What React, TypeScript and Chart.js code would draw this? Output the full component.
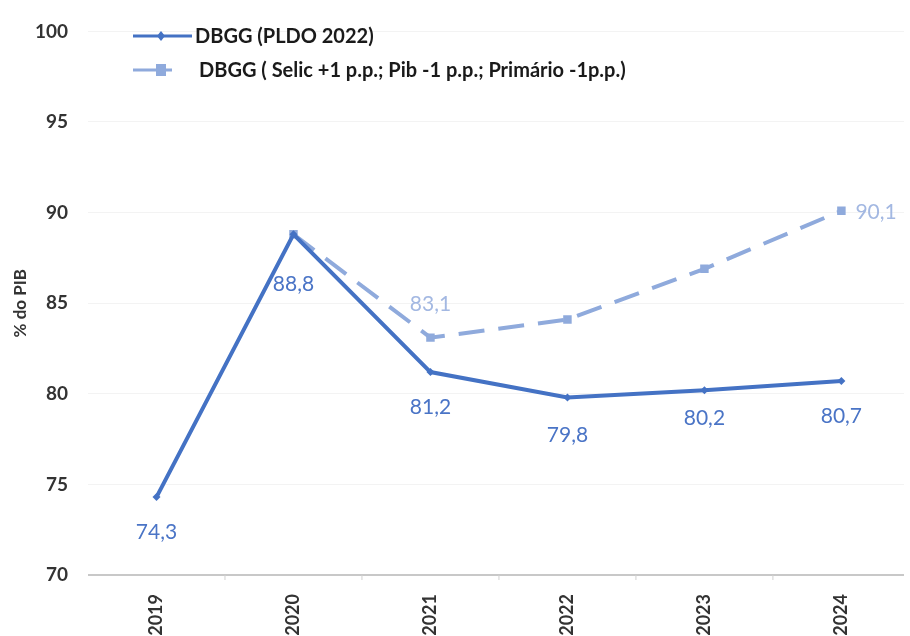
import React, { useEffect, useRef } from "react";
import { Chart, registerables } from "chart.js";

Chart.register(...registerables);

const years = [2019, 2020, 2021, 2022, 2023, 2024];
const baseSeries = [74.3, 88.8, 81.2, 79.8, 80.2, 80.7];
const stressSeries = [null, 88.8, 83.1, 84.1, 86.9, 90.1];
const baseName = "DBGG (PLDO 2022)";
const stressName = "DBGG ( Selic +1 p.p.; Pib -1 p.p.; Primário -1p.p.)";
const yTicks = [70, 75, 80, 85, 90, 95, 100];
const yTitle = "% do PIB";

const BASE_COLOR = "#4472C4";
const STRESS_COLOR = "#8FAADC";
const BASE_LABEL = "#4a74c6";
const STRESS_LABEL = "#a3b8e2";
const FONT = "Lato, 'Open Sans', sans-serif";

const fmt = (v: number) => v.toFixed(1).replace(".", ",");

const extrasPlugin = {
  id: "extras",
  afterDatasetsDraw(chart: any) {
    const ctx = chart.ctx;
    const xs = chart.scales.x;
    const ys = chart.scales.y;
    ctx.save();
    // small tick marks between categories
    ctx.strokeStyle = "#d0d0d0";
    ctx.lineWidth = 1;
    for (let i = 0; i < years.length - 1; i++) {
      const x = xs.getPixelForValue((years[i] + years[i + 1]) / 2);
      ctx.beginPath();
      ctx.moveTo(x, ys.bottom);
      ctx.lineTo(x, ys.bottom + 5);
      ctx.stroke();
    }
    // data labels
    ctx.font = "21px " + FONT;
    ctx.textAlign = "center";
    ctx.textBaseline = "middle";
    ctx.fillStyle = BASE_LABEL;
    baseSeries.forEach((v, i) => {
      const x = xs.getPixelForValue(years[i]);
      const y = ys.getPixelForValue(v);
      const dy = i === 1 ? 50 : i === 3 ? 38 : i === 4 ? 28 : 35;
      ctx.fillText(fmt(v), x, y + dy);
    });
    ctx.fillStyle = STRESS_LABEL;
    {
      const i = 2;
      const v = stressSeries[i] as number;
      ctx.fillText(fmt(v), xs.getPixelForValue(years[i]), ys.getPixelForValue(v) - 33);
    }
    {
      const i = 5;
      const v = stressSeries[i] as number;
      ctx.textAlign = "left";
      ctx.fillText(fmt(v), xs.getPixelForValue(years[i]) + 14, ys.getPixelForValue(v) + 1);
    }
    // legend
    ctx.textAlign = "left";
    ctx.font = "bold 20px " + FONT;
    ctx.strokeStyle = BASE_COLOR;
    ctx.lineWidth = 3;
    ctx.beginPath();
    ctx.moveTo(133, 36);
    ctx.lineTo(192, 36);
    ctx.stroke();
    ctx.fillStyle = BASE_COLOR;
    ctx.beginPath();
    ctx.moveTo(161, 31);
    ctx.lineTo(165, 36);
    ctx.lineTo(161, 41);
    ctx.lineTo(157, 36);
    ctx.closePath();
    ctx.fill();
    ctx.fillStyle = "#1a1a1a";
    ctx.fillText(baseName, 195, 37);
    ctx.strokeStyle = STRESS_COLOR;
    ctx.beginPath();
    ctx.moveTo(133, 70);
    ctx.lineTo(172, 70);
    ctx.stroke();
    ctx.fillStyle = STRESS_COLOR;
    ctx.fillRect(156, 64, 10, 12);
    ctx.fillStyle = "#1a1a1a";
    ctx.fillText(stressName, 199, 71);
    ctx.restore();
  },
};

export default function App() {
  const ref = useRef<HTMLCanvasElement>(null);
  useEffect(() => {
    if (!ref.current) return;
    const chart = new Chart(ref.current, {
      type: "line",
      data: {
        datasets: [
          {
            label: stressName,
            data: years.map((y, i) => ({ x: y, y: stressSeries[i] })).filter((p) => p.y !== null) as any,
            borderColor: STRESS_COLOR,
            backgroundColor: STRESS_COLOR,
            borderWidth: 4,
            borderDash: [26, 14],
            pointStyle: "rect",
            pointRadius: 6,
            pointBorderWidth: 0,
            tension: 0,
            order: 2,
          },
          {
            label: baseName,
            data: years.map((y, i) => ({ x: y, y: baseSeries[i] })) as any,
            borderColor: BASE_COLOR,
            backgroundColor: BASE_COLOR,
            borderWidth: 4,
            pointStyle: "rectRot",
            pointRadius: 4,
            pointBorderWidth: 0,
            tension: 0,
            order: 1,
          },
        ],
      },
      options: {
        animation: false,
        responsive: false,
        maintainAspectRatio: false,
        layout: { padding: { top: 22, left: 0, right: 0, bottom: 0 } },
        plugins: { legend: { display: false }, tooltip: { enabled: false } },
        scales: {
          x: {
            type: "linear",
            min: 2018.5,
            max: 2024.457,
            afterBuildTicks: (s: any) => {
              s.ticks = years.map((v) => ({ value: v }));
            },
            afterFit: (s: any) => {
              s.height = 61;
            },
            ticks: {
              minRotation: 90,
              maxRotation: 90,
              autoSkip: false,
              padding: 11,
              color: "#333",
              font: { family: FONT, size: 18, weight: "bold" },
              callback: (v: any) => String(v),
            },
            grid: { display: false },
            border: { display: false },
          },
          y: {
            min: 70,
            max: 100,
            afterBuildTicks: (s: any) => {
              s.ticks = yTicks.map((v) => ({ value: v }));
            },
            afterFit: (s: any) => {
              s.width = 88;
            },
            ticks: {
              padding: 20,
              color: "#333",
              font: { family: FONT, size: 19, weight: "bold" },
            },
            title: {
              display: true,
              text: yTitle,
              color: "#333",
              font: { family: FONT, size: 17, weight: "bold" },
              padding: { top: 10, bottom: 0 },
            },
            grid: {
              drawTicks: false,
              color: (c: any) => (c.tick && c.tick.value === 70 ? "#c8c8c8" : "#f3f3f3"),
              lineWidth: (c: any) => (c.tick && c.tick.value === 70 ? 2 : 1),
            },
            border: { display: false },
          },
        },
      },
      plugins: [extrasPlugin],
    });
    return () => chart.destroy();
  }, []);
  return (
    <div style={{ position: "fixed", left: 0, top: 0, width: 910, height: 636, background: "#fff" }}>
      <canvas ref={ref} width={910} height={636} style={{ display: "block" }} />
    </div>
  );
}
